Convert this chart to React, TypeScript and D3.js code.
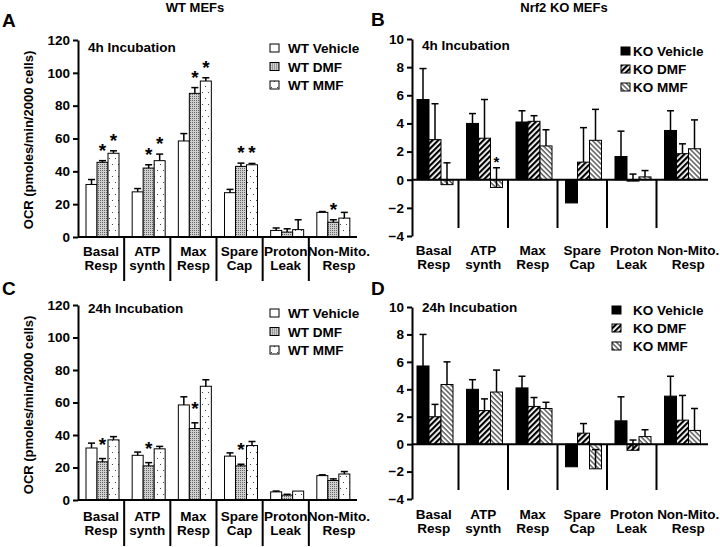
import React, { useEffect, useRef } from 'react';
import * as d3 from 'd3';

// categorias del eje x (dos lineas)
const categories = [
  ['Basal', 'Resp'],
  ['ATP', 'synth'],
  ['Max', 'Resp'],
  ['Spare', 'Cap'],
  ['Proton', 'Leak'],
  ['Non-Mito.', 'Resp'],
];

const wtSeries = ['WT Vehicle', 'WT DMF', 'WT MMF'];
const koSeries = ['KO Vehicle', 'KO DMF', 'KO MMF'];

const wtTicks = [0, 20, 40, 60, 80, 100, 120];
const koTicks = [-4, -2, 0, 2, 4, 6, 8, 10];

// A: WT 4h
const wt4hVehicle = [32, 27.5, 58.5, 27, 4, 15];
const wt4hVehicleSem = [3, 2, 4.5, 2, 1.5, 0.5];
const wt4hDMF = [45.5, 42, 87.5, 43, 3, 9];
const wt4hDMFSem = [1, 2, 3.5, 2, 2, 1.5];
const wt4hMMF = [51, 46.5, 95, 44, 4.5, 11.5];
const wt4hMMFSem = [1.5, 4, 2, 0.8, 6, 3.5];
const wt4hStars = [[0, 1], [0, 2], [1, 1], [1, 2], [2, 1], [2, 2], [3, 1], [3, 2], [5, 1]];

// B: KO 4h
const ko4hVehicle = [5.7, 4.0, 4.1, -1.65, 1.65, 3.5];
const ko4hVehicleSem = [2.2, 0.7, 0.8, 0, 1.8, 1.4];
const ko4hDMF = [2.85, 2.95, 4.15, 1.25, -0.1, 1.85];
const ko4hDMFSem = [2.55, 2.75, 0.4, 2.45, 0.5, 0.7];
const ko4hMMF = [-0.35, -0.55, 2.4, 2.8, 0.2, 2.2];
const ko4hMMFSem = [1.55, 1.4, 1.15, 2.2, 0.45, 2.05];
const ko4hStars = [[1, 2]];

// C: WT 24h
const wt24hVehicle = [32, 27.5, 58.5, 27, 5, 15];
const wt24hVehicleSem = [3, 2, 5, 2, 0.5, 0.5];
const wt24hDMF = [23.5, 21, 44, 21, 3, 12];
const wt24hDMFSem = [2, 2, 3.5, 1, 0.5, 1];
const wt24hMMF = [37, 31.5, 70, 33.5, 5.5, 16];
const wt24hMMFSem = [2, 1.5, 4, 2.5, 0, 1.5];
const wt24hStars = [[0, 1], [1, 1], [2, 1], [3, 1]];

// D: KO 24h
const ko24hVehicle = [5.7, 4.0, 4.1, -1.65, 1.7, 3.5];
const ko24hVehicleSem = [2.3, 0.7, 0.85, 0, 1.75, 1.45];
const ko24hDMF = [2.0, 2.45, 2.75, 0.8, -0.45, 1.75];
const ko24hDMFSem = [0.9, 0.85, 0.65, 0.7, 0.75, 1.8];
const ko24hMMF = [4.35, 3.8, 2.6, -1.8, 0.55, 1.0];
const ko24hMMFSem = [1.65, 1.6, 0.45, 1.4, 0.5, 1.6];
const ko24hStars = [];

const wtFills = ['#fff', 'url(#pWtDmf)', 'url(#pWtMmf)'];
const koFills = ['#000', 'url(#pKoDmf)', 'url(#pKoMmf)'];

const FONT = 'Arial, "Liberation Sans", sans-serif';

const drawPanel = (svg, p) => {
  const x = d3.scaleBand().domain(d3.range(categories.length)).range([p.bandStart, p.bandEnd]);
  const xs = d3
    .scaleBand()
    .domain([0, 1, 2])
    .range([p.inner, p.inner + 3 * p.barW]);
  const y = d3.scaleLinear().domain(p.domain).range(p.yRange);

  const g = svg.append('g').style('font-family', FONT).style('font-weight', 'bold');

  // barras
  p.series.forEach((s, si) => {
    g.append('g')
      .selectAll('rect')
      .data(s.mean)
      .enter()
      .append('rect')
      .attr('x', (d, i) => x(i) + xs(si))
      .attr('y', d => y(Math.max(0, d)))
      .attr('width', xs.bandwidth())
      .attr('height', d => Math.abs(y(d) - y(0)))
      .attr('fill', p.fills[si])
      .attr('stroke', '#000')
      .attr('stroke-width', 1);

    // barras de error (solo hacia arriba)
    const eb = g
      .append('g')
      .selectAll('g')
      .data(s.mean.map((m, i) => ({ m, e: s.sem[i], i })).filter(d => d.e > 0))
      .enter()
      .append('g');
    eb.append('line')
      .attr('x1', d => x(d.i) + xs(si) + xs.bandwidth() / 2)
      .attr('x2', d => x(d.i) + xs(si) + xs.bandwidth() / 2)
      .attr('y1', d => y(d.m))
      .attr('y2', d => y(d.m + d.e))
      .attr('stroke', '#000')
      .attr('stroke-width', 1.5);
    eb.append('line')
      .attr('x1', d => x(d.i) + xs(si) + xs.bandwidth() / 2 - 3.5)
      .attr('x2', d => x(d.i) + xs(si) + xs.bandwidth() / 2 + 3.5)
      .attr('y1', d => y(d.m + d.e))
      .attr('y2', d => y(d.m + d.e))
      .attr('stroke', '#000')
      .attr('stroke-width', 1.5);
  });

  // asteriscos
  g.append('g')
    .selectAll('text')
    .data(p.stars)
    .enter()
    .append('text')
    .attr('x', d => x(d[0]) + xs(d[1]) + xs.bandwidth() / 2)
    .attr('y', d => y(p.series[d[1]].mean[d[0]] + p.series[d[1]].sem[d[0]]) - p.starGap)
    .attr('text-anchor', 'middle')
    .style('font-size', p.starSize + 'px')
    .text('*');

  // eje y
  const yAxis = g
    .append('g')
    .attr('transform', `translate(${p.axisX},0)`)
    .call(d3.axisLeft(y).tickValues(p.ticks).tickSize(5).tickSizeOuter(0).tickPadding(3));
  yAxis.select('.domain').attr('stroke-width', 2);
  yAxis.selectAll('.tick line').attr('stroke-width', 2);
  yAxis
    .selectAll('.tick text')
    .style('font-size', '13.5px')
    .style('font-family', FONT)
    .style('font-weight', 'bold')
    .attr('fill', '#000');

  // eje x en cero
  g.append('line')
    .attr('x1', p.axisX)
    .attr('x2', p.bandEnd + 2)
    .attr('y1', y(0))
    .attr('y2', y(0))
    .attr('stroke', '#000')
    .attr('stroke-width', 2);

  // separadores entre categorias
  g.append('g')
    .selectAll('line')
    .data(d3.range(1, categories.length))
    .enter()
    .append('line')
    .attr('x1', i => x(i))
    .attr('x2', i => x(i))
    .attr('y1', y(0))
    .attr('y2', p.sepBottom)
    .attr('stroke', '#000')
    .attr('stroke-width', 2);

  // etiquetas x
  const lab = g
    .append('g')
    .selectAll('text')
    .data(categories)
    .enter()
    .append('text')
    .attr('text-anchor', 'middle')
    .style('font-size', '13.5px');
  lab.append('tspan')
    .attr('x', (d, i) => x(i) + x.bandwidth() / 2 + (i === 5 ? 7 : 0))
    .attr('y', p.labelY)
    .text(d => d[0]);
  lab.append('tspan')
    .attr('x', (d, i) => x(i) + x.bandwidth() / 2 + (i === 5 ? 7 : 0))
    .attr('y', p.labelY + 14)
    .text(d => d[1]);

  // texto de incubacion
  g.append('text')
    .attr('x', p.axisX + 10)
    .attr('y', p.incY)
    .style('font-size', '13.5px')
    .text(p.incubation);

  // leyenda
  const leg = g
    .append('g')
    .selectAll('g')
    .data(p.names)
    .enter()
    .append('g')
    .attr('transform', (d, i) => `translate(0,${p.legY + i * p.legStep})`);
  leg.append('rect')
    .attr('x', p.legX)
    .attr('y', -4)
    .attr('width', 9)
    .attr('height', 8)
    .attr('fill', (d, i) => p.fills[i])
    .attr('stroke', '#000')
    .attr('stroke-width', 1);
  leg.append('text')
    .attr('x', p.legTextX)
    .attr('y', 5)
    .style('font-size', '13.5px')
    .text(d => d);

  // eje y titulo
  if (p.yTitle) {
    g.append('text')
      .attr('transform', `translate(33,${p.yTitleY}) rotate(-90)`)
      .attr('text-anchor', 'middle')
      .style('font-size', '13px')
      .text(p.yTitle);
  }

  // letra del panel
  g.append('text')
    .attr('x', p.letterX)
    .attr('y', p.letterY)
    .style('font-size', '19px')
    .text(p.letter);
};

const App = () => {
  const ref = useRef(null);

  useEffect(() => {
    const root = d3.select(ref.current);
    root.selectAll('*').remove();
    const svg = root
      .append('svg')
      .attr('width', 720)
      .attr('height', 547)
      .style('position', 'absolute')
      .style('left', 0)
      .style('top', 0)
      .style('background', '#fff');

    const defs = svg.append('defs');
    // DMF WT: gris punteado denso
    const p1 = defs.append('pattern').attr('id', 'pWtDmf').attr('patternUnits', 'userSpaceOnUse').attr('width', 2).attr('height', 2);
    p1.append('rect').attr('width', 2).attr('height', 2).attr('fill', '#cfcfcf');
    p1.append('rect').attr('width', 1).attr('height', 1).attr('fill', '#666');
    // MMF WT: puntos dispersos
    const p2 = defs.append('pattern').attr('id', 'pWtMmf').attr('patternUnits', 'userSpaceOnUse').attr('width', 6).attr('height', 12);
    p2.append('rect').attr('width', 6).attr('height', 12).attr('fill', '#fff');
    p2.append('rect').attr('x', 1).attr('y', 2).attr('width', 1).attr('height', 1).attr('fill', '#444');
    p2.append('rect').attr('x', 4).attr('y', 8).attr('width', 1).attr('height', 1).attr('fill', '#444');
    // DMF KO: rayas /
    const p3 = defs.append('pattern').attr('id', 'pKoDmf').attr('patternUnits', 'userSpaceOnUse').attr('width', 4).attr('height', 4).attr('patternTransform', 'rotate(45)');
    p3.append('rect').attr('width', 4).attr('height', 4).attr('fill', '#fff');
    p3.append('line').attr('x1', 1).attr('x2', 1).attr('y1', 0).attr('y2', 4).attr('stroke', '#000').attr('stroke-width', 2.4);
    // MMF KO: rayas \
    const p4 = defs.append('pattern').attr('id', 'pKoMmf').attr('patternUnits', 'userSpaceOnUse').attr('width', 3.5).attr('height', 3.5).attr('patternTransform', 'rotate(-45)');
    p4.append('rect').attr('width', 3.5).attr('height', 3.5).attr('fill', '#fff');
    p4.append('line').attr('x1', 1).attr('x2', 1).attr('y1', 0).attr('y2', 3.5).attr('stroke', '#333').attr('stroke-width', 1.2);

    // titulos
    svg.append('text').attr('x', 195).attr('y', 12).attr('text-anchor', 'middle')
      .style('font-family', FONT).style('font-weight', 'bold').style('font-size', '13px').text('WT MEFs');
    svg.append('text').attr('x', 564).attr('y', 12).attr('text-anchor', 'middle')
      .style('font-family', FONT).style('font-weight', 'bold').style('font-size', '13px').text('Nrf2 KO MEFs');

    const wtBase = {
      domain: [0, 120], ticks: wtTicks, axisX: 78, bandStart: 78, bandEnd: 355,
      inner: 8, barW: 11, fills: wtFills, names: wtSeries, legX: 270, legTextX: 288, legStep: 18.5,
      yTitle: 'OCR (pmoles/min/2000 cells)', letterX: 2, starSize: 19,
    };
    const koBase = {
      domain: [-4, 10], ticks: koTicks, axisX: 412, bandStart: 409, bandEnd: 706,
      inner: 8, barW: 12, fills: koFills, names: koSeries, legTextX: 633, legStep: 18,
      letterX: 371, starSize: 15, starGap: 1,
    };

    drawPanel(svg, {
      ...wtBase, yRange: [237, 40], sepBottom: 281, labelY: 256, incY: 52, legY: 48,
      incubation: '4h Incubation', yTitleY: 140, letter: 'A', letterY: 27, starGap: 4, stars: wt4hStars,
      series: [
        { mean: wt4hVehicle, sem: wt4hVehicleSem },
        { mean: wt4hDMF, sem: wt4hDMFSem },
        { mean: wt4hMMF, sem: wt4hMMFSem },
      ],
    });
    drawPanel(svg, {
      ...koBase, yRange: [236, 39], sepBottom: 228, labelY: 255, incY: 50, legY: 51, legX: 621,
      incubation: '4h Incubation', letter: 'B', letterY: 26, stars: ko4hStars,
      series: [
        { mean: ko4hVehicle, sem: ko4hVehicleSem },
        { mean: ko4hDMF, sem: ko4hDMFSem },
        { mean: ko4hMMF, sem: ko4hMMFSem },
      ],
    });
    drawPanel(svg, {
      ...wtBase, yRange: [500, 305], sepBottom: 546, labelY: 521, incY: 313, legY: 313,
      incubation: '24h Incubation', yTitleY: 405, letter: 'C', letterY: 295, starGap: 8, stars: wt24hStars,
      series: [
        { mean: wt24hVehicle, sem: wt24hVehicleSem },
        { mean: wt24hDMF, sem: wt24hDMFSem },
        { mean: wt24hMMF, sem: wt24hMMFSem },
      ],
    });
    drawPanel(svg, {
      ...koBase, yRange: [499, 307], sepBottom: 490, labelY: 519, incY: 312, legY: 310, legX: 612,
      incubation: '24h Incubation', letter: 'D', letterY: 295, stars: ko24hStars,
      series: [
        { mean: ko24hVehicle, sem: ko24hVehicleSem },
        { mean: ko24hDMF, sem: ko24hDMFSem },
        { mean: ko24hMMF, sem: ko24hMMFSem },
      ],
    });
  }, []);

  return <div ref={ref} style={{ width: 720, height: 547 }}></div>;
};

export default App;
